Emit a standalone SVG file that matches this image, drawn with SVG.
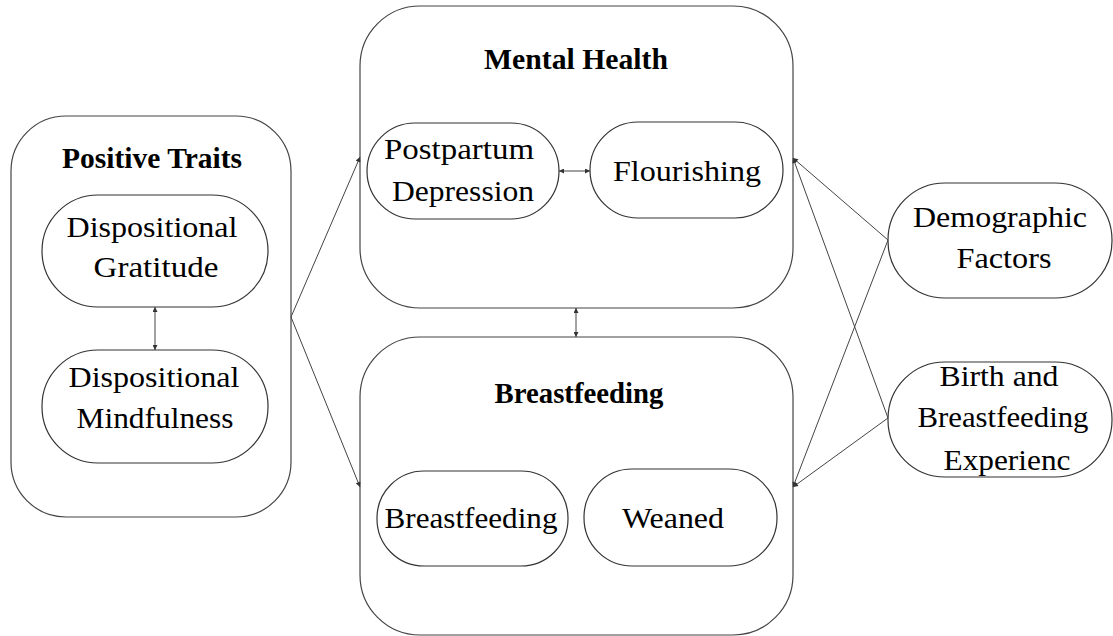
<svg xmlns="http://www.w3.org/2000/svg" width="1113" height="636" viewBox="0 0 1113 636">
  <defs>
    <marker id="arrow" viewBox="0 0 10 10" refX="10" refY="5" markerWidth="6" markerHeight="5" markerUnits="userSpaceOnUse" orient="auto-start-reverse">
      <path d="M0,0 L10,5 L0,10 z" fill="#333"/>
    </marker>
    <style>
      .box { fill: #fff; stroke: #444; stroke-width: 1.2; }
      .pill { fill: #fff; stroke: #333; stroke-width: 1.2; }
      text { font-family: "Liberation Serif", "Times New Roman", Times, Tinos, "Nimbus Roman", "FreeSerif", serif; fill: #000; text-anchor: middle; }
      .title { font-weight: bold; font-size: 30px; }
      .lbl { font-size: 30px; }
      .link { fill: none; stroke: #444; stroke-width: 1; }
    </style>
  </defs>
  <rect width="1113" height="636" fill="#fff"/>

  <!-- Positive traits group -->
  <g id="positive-traits">
    <rect class="box" x="11" y="116" width="280" height="401" rx="55" ry="55"/>
    <text class="title" x="152" y="168" textLength="180" lengthAdjust="spacingAndGlyphs">Positive Traits</text>
  </g>
  <g id="dispositional-gratitude">
    <rect class="pill" x="42" y="195" width="226" height="112" rx="56" ry="56"/>
    <text class="lbl" x="152" y="237" textLength="171" lengthAdjust="spacingAndGlyphs">Dispositional</text>
    <text class="lbl" x="156" y="277" textLength="125" lengthAdjust="spacingAndGlyphs">Gratitude</text>
  </g>
  <g id="dispositional-mindfulness">
    <rect class="pill" x="42" y="350" width="226" height="113" rx="56" ry="56"/>
    <text class="lbl" x="154" y="387" textLength="171" lengthAdjust="spacingAndGlyphs">Dispositional</text>
    <text class="lbl" x="155" y="428" textLength="157" lengthAdjust="spacingAndGlyphs">Mindfulness</text>
  </g>

  <!-- Mental health group -->
  <g id="mental-health">
    <rect class="box" x="360" y="6" width="433" height="302" rx="60" ry="60"/>
    <text class="title" x="576" y="69" textLength="184" lengthAdjust="spacingAndGlyphs">Mental Health</text>
  </g>
  <g id="postpartum-depression">
    <rect class="pill" x="367" y="123" width="192" height="96" rx="48" ry="48"/>
    <text class="lbl" x="459" y="159" textLength="150" lengthAdjust="spacingAndGlyphs">Postpartum</text>
    <text class="lbl" x="463" y="201" textLength="142" lengthAdjust="spacingAndGlyphs">Depression</text>
  </g>
  <g id="flourishing">
    <rect class="pill" x="590" y="122" width="193" height="96" rx="48" ry="48"/>
    <text class="lbl" x="687" y="181" textLength="148" lengthAdjust="spacingAndGlyphs">Flourishing</text>
  </g>

  <!-- Breastfeeding group -->
  <g id="breastfeeding-group">
    <rect class="box" x="360" y="337" width="433" height="298" rx="60" ry="60"/>
    <text class="title" x="579" y="403" textLength="169" lengthAdjust="spacingAndGlyphs">Breastfeeding</text>
  </g>
  <g id="breastfeeding">
    <rect class="pill" x="377" y="471" width="191" height="95" rx="47" ry="47"/>
    <text class="lbl" x="471" y="528" textLength="173" lengthAdjust="spacingAndGlyphs">Breastfeeding</text>
  </g>
  <g id="weaned">
    <rect class="pill" x="584" y="469" width="193" height="97" rx="48" ry="48"/>
    <text class="lbl" x="673" y="528" textLength="102" lengthAdjust="spacingAndGlyphs">Weaned</text>
  </g>

  <!-- Covariates -->
  <g id="demographic-factors">
    <rect class="pill" x="888" y="183" width="224" height="115" rx="57" ry="57"/>
    <text class="lbl" x="1000" y="227" textLength="174" lengthAdjust="spacingAndGlyphs">Demographic</text>
    <text class="lbl" x="1004" y="268" textLength="95" lengthAdjust="spacingAndGlyphs">Factors</text>
  </g>
  <g id="birth-breastfeeding-experience">
    <rect class="pill" x="888" y="362" width="224" height="115" rx="57" ry="57"/>
    <text class="lbl" x="999" y="386" textLength="119" lengthAdjust="spacingAndGlyphs">Birth and</text>
    <text class="lbl" x="1003" y="427" textLength="171" lengthAdjust="spacingAndGlyphs">Breastfeeding</text>
    <text class="lbl" x="1007" y="470" textLength="127" lengthAdjust="spacingAndGlyphs">Experienc</text>
  </g>

  <!-- Connectors -->
  <g id="connectors">
    <line class="link" x1="291" y1="317" x2="360" y2="157" marker-end="url(#arrow)"/>
    <line class="link" x1="291" y1="317" x2="360" y2="487" marker-end="url(#arrow)"/>
    <line class="link" x1="155" y1="307" x2="155" y2="350" marker-start="url(#arrow)" marker-end="url(#arrow)"/>
    <line class="link" x1="559" y1="171" x2="590" y2="171" marker-start="url(#arrow)" marker-end="url(#arrow)"/>
    <line class="link" x1="576" y1="308" x2="576" y2="337" marker-start="url(#arrow)" marker-end="url(#arrow)"/>
    <line class="link" x1="888" y1="240" x2="793" y2="158" marker-end="url(#arrow)"/>
    <line class="link" x1="888" y1="240" x2="793" y2="487" marker-end="url(#arrow)"/>
    <line class="link" x1="888" y1="418" x2="793" y2="158" marker-end="url(#arrow)"/>
    <line class="link" x1="888" y1="418" x2="793" y2="487" marker-end="url(#arrow)"/>
  </g>
</svg>
